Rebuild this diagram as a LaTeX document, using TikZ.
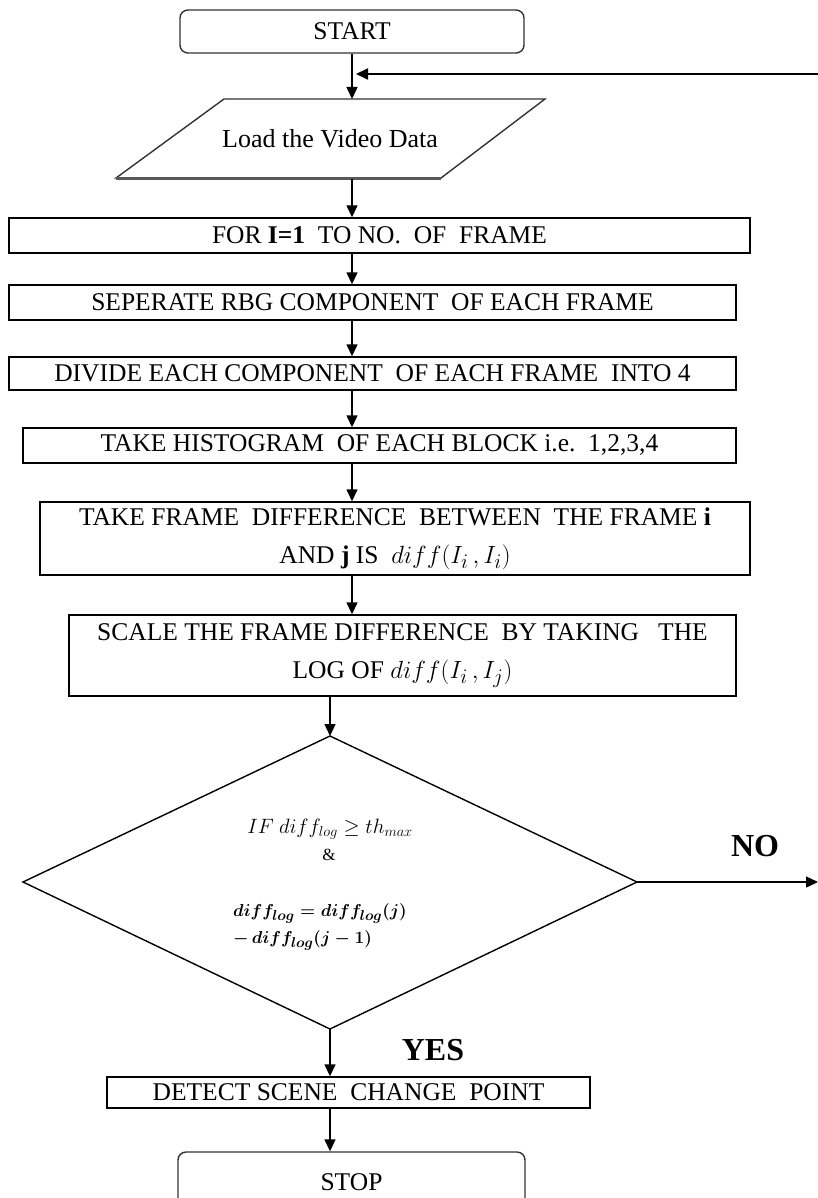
\documentclass[tikz,border=0pt]{standalone}
\usepackage{fontspec}
\setmainfont{Liberation Serif}
\usepackage{amsmath}
\usetikzlibrary{arrows.meta,calc}
\begin{document}
\begin{tikzpicture}[x=1pt,y=-1pt,
  line/.style={line width=1.4pt, draw=black},
  box/.style={draw=black, line width=1.4pt, inner sep=0pt, align=center,
    font=\fontsize{25.5}{38}\selectfont},
  rbox/.style={box, rounded corners=8pt, draw=black!80},
  arr/.style={line width=1.4pt, draw=black, -{Triangle[length=12pt,width=11pt]}},
  lbl/.style={font=\fontsize{32}{36}\selectfont\bfseries, inner sep=0pt},
  cond/.style={font=\fontsize{19}{22}\selectfont, inner sep=0pt}]
\useasboundingbox (0,0) rectangle (818,1198);

% START
\node[rbox, minimum width=344pt, minimum height=43pt] (start) at (352,31.5) {START};

% Load the video data (parallelogram)
\draw[line, draw=black!80] (224,99) -- (545,99) -- (441,178) -- (116,178) -- cycle;
\draw[line width=2.6pt, draw=black!65] (441,178.5) -- (116,178.5);
\node[font=\fontsize{26}{30}\selectfont, inner sep=0pt] (load) at (330,139) {Load the Video Data};
\coordinate (loadtop) at (352,99);
\coordinate (loadbot) at (352,179);

% boxes
\node[box, minimum width=741pt, minimum height=35pt] (b1) at (379.5,235.5)
  {FOR \textbf{I=1}\ \ TO NO.\ \ OF\ \ FRAME};
\node[box, minimum width=727pt, minimum height=35pt] (b2) at (372.5,302.5)
  {SEPERATE RBG COMPONENT\ \ OF EACH FRAME};
\node[box, minimum width=727pt, minimum height=33pt] (b3) at (372.5,373.5)
  {DIVIDE EACH COMPONENT\ \ OF EACH FRAME\ \ INTO 4};
\node[box, minimum width=713pt, minimum height=35pt] (b4) at (379.5,445.5)
  {TAKE HISTOGRAM\ \ OF EACH BLOCK i.e.\ \ 1,2,3,4};
\node[box, minimum width=710pt, minimum height=73pt] (b5) at (395,538.5)
  {TAKE FRAME\ \ DIFFERENCE\ \ BETWEEN\ \ THE FRAME \textbf{i}\\
   AND \textbf{j} IS\ \ {\fontsize{31}{38}\selectfont$diff(I_i\,, I_i)$}};
\node[box, minimum width=667pt, minimum height=81pt] (b6) at (402.5,655.5)
  {SCALE THE FRAME DIFFERENCE\ \ BY TAKING\ \ \ THE\\
   LOG OF {\fontsize{31}{38}\selectfont$diff(I_i\,,I_j)$}};

% decision diamond
\coordinate (dtop) at (330,736);
\coordinate (dright) at (637,882);
\coordinate (dbot) at (330,1029);
\coordinate (dleft) at (23,882);
\draw[line] (dtop) -- (dright) -- (dbot) -- (dleft) -- cycle;
\node[cond, font=\fontsize{21}{24}\selectfont] (c1) at (330,829) {$IF\ diff_{log} \geq th_{max}$};
\node[cond, font=\fontsize{17}{20}\selectfont] (c2) at (329,855) {\&};
\node[cond, anchor=west] (c3) at (233,913) {$\boldsymbol{diff_{log} = diff_{log}(j)}$};
\node[cond, anchor=west] (c4) at (233,940) {$\boldsymbol{-\,diff_{log}(j-1)}$};

% end boxes
\node[box, minimum width=483pt, minimum height=31pt] (b7) at (348.5,1092.5)
  {DETECT SCENE\ \ CHANGE\ \ POINT};
\node[rbox, minimum width=347pt, minimum height=60pt] (stop) at (351.5,1182) {STOP};

% labels
\node[lbl] (no) at (755,846) {NO};
\node[lbl] (yes) at (433,1050) {YES};

% connectors
\draw[arr] (start.south) -- (loadtop);
\coordinate (fbfrom) at (818,74);
\coordinate (fbto) at (356,74);
\draw[arr, line width=1.8pt] (fbfrom) -- (fbto);
\draw[arr] (loadbot) -- (loadbot |- b1.north);
\draw[arr] (b1.south -| loadbot) -- (b2.north -| loadbot);
\draw[arr] (b2.south -| loadbot) -- (b3.north -| loadbot);
\draw[arr] (b3.south -| loadbot) -- (b4.north -| loadbot);
\draw[arr] (b4.south -| loadbot) -- (b5.north -| loadbot);
\draw[arr] (b5.south -| loadbot) -- (b6.north -| loadbot);
\draw[arr] (b6.south -| dtop) -- (dtop);
\draw[arr] (dbot) -- (dbot |- b7.north);
\draw[arr] (b7.south -| dbot) -- (dbot |- stop.north);
\coordinate (noend) at (818,882);
\draw[arr] (dright) -- (noend);
\end{tikzpicture}
\end{document}
